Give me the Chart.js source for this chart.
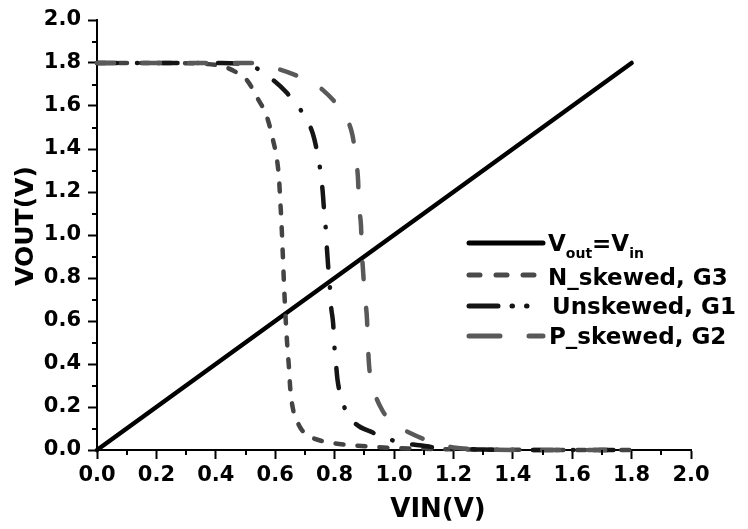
<!DOCTYPE html>
<html>
<head>
<meta charset="utf-8">
<script src="https://cdn.jsdelivr.net/npm/chart.js@4/dist/chart.umd.min.js"></script>
<style>
  html, body { margin: 0; padding: 0; background: #fff; }
  #wrap { width: 748px; height: 529px; }
</style>
</head>
<body>
<div id="wrap"><canvas id="vtc" width="748" height="529"></canvas></div>
<script>
// Vout = Vin reference line
const diagX = [0, 1.8];
const diagY = [0, 1.8];

// N_skewed, G3
const nX = [0, 0.2, 0.35, 0.42, 0.465, 0.505, 0.539, 0.572, 0.593, 0.606, 0.613, 0.617, 0.621, 0.625, 0.63, 0.636, 0.641, 0.646, 0.651, 0.66, 0.675, 0.69, 0.72, 0.774, 0.852, 0.95, 1.05, 1.2, 1.4, 1.6, 1.8];
const nY = [1.8, 1.8, 1.797, 1.785, 1.76, 1.72, 1.64, 1.55, 1.44, 1.35, 1.26, 1.16, 1.06, 0.93, 0.76, 0.59, 0.48, 0.39, 0.28, 0.19, 0.13, 0.093, 0.06, 0.037, 0.023, 0.013, 0.007, 0.003, 0.001, 0, 0];

// Unskewed, G1
const uX = [0, 0.2, 0.42, 0.53, 0.58, 0.64, 0.70, 0.727, 0.74, 0.754, 0.76, 0.764, 0.771, 0.774, 0.778, 0.785, 0.788, 0.795, 0.80, 0.805, 0.81, 0.83, 0.865, 0.93, 0.95, 1.02, 1.085, 1.15, 1.3, 1.5, 1.8];
const uY = [1.8, 1.8, 1.8, 1.78, 1.735, 1.66, 1.55, 1.47, 1.395, 1.28, 1.2, 1.125, 1.014, 0.94, 0.86, 0.74, 0.67, 0.59, 0.47, 0.395, 0.325, 0.21, 0.13, 0.08, 0.068, 0.035, 0.022, 0.01, 0.002, 0, 0];

// P_skewed, G2
const pX = [0, 0.2, 0.4, 0.515, 0.59, 0.683, 0.76, 0.83, 0.86, 0.872, 0.879, 0.882, 0.889, 0.892, 0.896, 0.902, 0.909, 0.912, 0.916, 0.93, 0.96, 1.0, 1.047, 1.128, 1.2, 1.3, 1.5, 1.8];
const pY = [1.8, 1.8, 1.8, 1.8, 1.78, 1.735, 1.675, 1.56, 1.465, 1.35, 1.256, 1.14, 1.04, 0.92, 0.83, 0.71, 0.61, 0.5, 0.395, 0.29, 0.186, 0.12, 0.084, 0.037, 0.012, 0.003, 0, 0];

const seriesNames = ['Vout=Vin', 'N_skewed, G3', 'Unskewed, G1', 'P_skewed, G2'];

function pts(xs, ys) {
    return xs.map(function (x, i) { return { x: x, y: ys[i] }; });
}

const FONT = '"DejaVu Sans", Arial, sans-serif';

// legend sample patterns (as drawn in the original legend)
const legendStyle = [
    { color: '#000', dash: [] },
    { color: '#4a4a4a', dash: [11, 16] },
    { color: '#151515', dash: [29, 14, 0.5, 14, 0.5, 40] },
    { color: '#595959', dash: [31, 29] },
];

const extras = {
    id: 'extras',
    afterDraw: function (chart) {
        const ctx = chart.ctx;
        const xs = chart.scales.x, ys = chart.scales.y;
        ctx.save();
        // minor ticks
        ctx.strokeStyle = '#000';
        ctx.lineWidth = 2;
        ctx.beginPath();
        for (let v = 0.1; v < 2; v += 0.2) {
            const px = Math.round(xs.getPixelForValue(v));
            ctx.moveTo(px, xs.top);
            ctx.lineTo(px, xs.top + 5);
            const py = Math.round(ys.getPixelForValue(v));
            ctx.moveTo(ys.right, py);
            ctx.lineTo(ys.right - 5, py);
        }
        ctx.stroke();

        // axis titles
        ctx.fillStyle = '#000';
        ctx.font = 'bold 26px ' + FONT;
        ctx.textAlign = 'center';
        ctx.textBaseline = 'alphabetic';
        ctx.fillText('VIN(V)', 438, 517);
        ctx.save();
        ctx.translate(26, 226);
        ctx.rotate(-Math.PI / 2);
        ctx.font = 'bold 25px ' + FONT;
        ctx.textBaseline = 'middle';
        ctx.fillText('VOUT(V)', 0, 0);
        ctx.restore();

        // legend
        const lineY = [243, 275, 306, 336];
        const textY = [251, 285, 314, 344];
        ctx.lineCap = 'round';
        legendStyle.forEach(function (s, i) {
            ctx.strokeStyle = s.color;
            ctx.lineWidth = 5;
            ctx.setLineDash(s.dash);
            ctx.beginPath();
            ctx.moveTo(469, lineY[i]);
            ctx.lineTo(543, lineY[i]);
            ctx.stroke();
        });
        ctx.setLineDash([]);
        ctx.textAlign = 'left';
        ctx.textBaseline = 'alphabetic';
        ctx.fillStyle = '#000';
        const big = 'bold 23px ' + FONT, small = 'bold 14px ' + FONT;
        // V_out = V_in with subscripts
        let x = 548;
        const parts = [['V', big, 0], ['out', small, 7], ['=V', big, 0], ['in', small, 7]];
        parts.forEach(function (p) {
            ctx.font = p[1];
            ctx.fillText(p[0], x, textY[0] + p[2]);
            x += ctx.measureText(p[0]).width;
        });
        ctx.font = big;
        ctx.fillText(seriesNames[1], 548, textY[1]);
        ctx.fillText(seriesNames[2], 552, textY[2]);
        ctx.fillText(seriesNames[3], 549, textY[3]);
        ctx.restore();
    }
};

function axis(fitKey, fitVal) {
    return {
        type: 'linear',
        min: 0,
        max: 2,
        border: { display: true, color: '#000', width: 2 },
        grid: { drawOnChartArea: false, drawTicks: true, tickLength: 9, tickWidth: 2, tickColor: '#000' },
        ticks: {
            stepSize: 0.2,
            color: '#000',
            padding: fitKey === 'width' ? 7 : 4,
            font: { family: FONT, size: 21, weight: 'bold' },
            callback: function (v) { return Number(v).toFixed(1); },
        },
        afterFit: function (scale) { scale[fitKey] = fitVal; },
    };
}

new Chart(document.getElementById('vtc').getContext('2d'), {
    type: 'line',
    data: {
        datasets: [
            {
                label: seriesNames[0], data: pts(diagX, diagY),
                borderColor: '#000', borderWidth: 4.5, order: 10,
            },
            {
                label: seriesNames[1], data: pts(nX, nY),
                borderColor: '#444', borderWidth: 4.5, borderDash: [8, 14],
                cubicInterpolationMode: 'monotone', order: 3,
            },
            {
                label: seriesNames[2], data: pts(uX, uY),
                borderColor: '#151515', borderWidth: 4.5, borderDash: [20, 20, 0.5, 20],
                cubicInterpolationMode: 'monotone', order: 2,
            },
            {
                label: seriesNames[3], data: pts(pX, pY),
                borderColor: '#595959', borderWidth: 4.5, borderDash: [17, 29],
                cubicInterpolationMode: 'monotone', order: 1,
            },
        ],
    },
    options: {
        responsive: false,
        animation: false,
        parsing: false,
        layout: { padding: { top: 20, right: 57, left: 0, bottom: 0 } },
        elements: {
            point: { radius: 0 },
            line: { fill: false, borderCapStyle: 'round', borderJoinStyle: 'round' },
        },
        datasets: { line: { clip: 6 } },
        plugins: { legend: { display: false }, tooltip: { enabled: false } },
        scales: {
            x: axis('height', 79),
            y: axis('width', 97),
        },
    },
    plugins: [extras],
});
</script>
</body>
</html>
